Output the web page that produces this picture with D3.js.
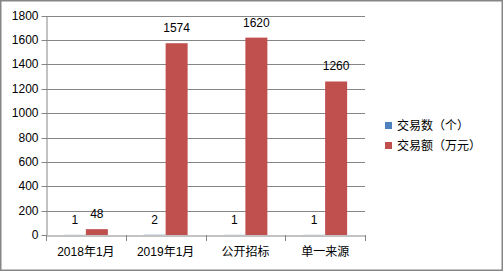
<!DOCTYPE html>
<html><head><meta charset="utf-8">
<script src="https://cdn.jsdelivr.net/npm/d3@7/dist/d3.min.js"></script>
<style>body{margin:0;background:#fff}svg{display:block}text{font-family:"Liberation Sans","Noto Sans CJK SC",sans-serif;font-size:12px;fill:#000}</style>
</head><body><svg id="c" width="503" height="271"></svg>
<script>
const categories = ["2018年1月","2019年1月","公开招标","单一来源"];
const seriesNames = ["交易数（个）","交易额（万元）"];
const countValues = [1,2,1,1];
const amountValues = [48,1574,1620,1260];
const yTicks = [0,200,400,600,800,1000,1200,1400,1600,1800];
const colors = ["#4F81BD","#C0504D"];

const svg = d3.select("#c");
svg.append("rect").attr("x",0.75).attr("y",0.75).attr("width",501.5).attr("height",269.5)
  .attr("fill","#fff").attr("stroke","#868686").attr("stroke-width",1.5);

const L=46, R=365, T=15.7, B=235;
const x = d3.scaleBand().domain(categories).range([L,R]);
const y = d3.scaleLinear().domain([0,1800]).range([B,T]);
const barW = 22;

// grid
svg.append("g").selectAll("line").data(yTicks.filter(d=>d>0)).join("line")
  .attr("x1",L).attr("x2",R).attr("y1",d=>Math.round(y(d))+0.5).attr("y2",d=>Math.round(y(d))+0.5)
  .attr("stroke","#868686").attr("stroke-width",1);

// y axis
const ya = svg.append("g").attr("transform",`translate(${L+0.5},0)`)
  .call(d3.axisLeft(y).tickValues(yTicks).tickFormat(d3.format("d")).tickSize(5).tickPadding(3).tickSizeOuter(0));
ya.select(".domain").attr("stroke","#868686");
ya.selectAll(".tick line").attr("stroke","#868686");
ya.selectAll("text").style("font-size","12px");
ya.selectAll(".tick").attr("transform",d=>`translate(0,${Math.round(y(d))+0.5})`);

// bars
const series = [countValues, amountValues];
series.forEach((vals,si)=>{
  const g = svg.append("g");
  g.selectAll("rect").data(categories).join("rect")
    .attr("x",(c)=>x(c)+x.bandwidth()/2 - barW + si*barW)
    .attr("y",(c,i)=>y(vals[i]))
    .attr("width",barW)
    .attr("height",(c,i)=>B - y(vals[i]))
    .attr("fill",colors[si]);
  g.selectAll("text").data(categories).join("text")
    .attr("x",(c)=>x(c)+x.bandwidth()/2 - barW/2 + si*barW)
    .attr("y",(c,i)=>y(vals[i]) - 11)
    .attr("text-anchor","middle")
    .text((c,i)=>vals[i]);
});

// x axis
const xa = svg.append("g").attr("transform",`translate(0,${B+0.5})`)
  .call(d3.axisBottom(x).tickSize(0).tickPadding(12));
xa.select(".domain").attr("stroke","#868686");
xa.selectAll("text").style("font-size","12px");
const edges = categories.map(c=>x(c)).concat([R]);
svg.append("g").selectAll("line").data(edges).join("line")
  .attr("x1",d=>Math.round(d)+0.5).attr("x2",d=>Math.round(d)+0.5)
  .attr("y1",B).attr("y2",B+6).attr("stroke","#868686");

// legend
const lg = svg.append("g");
seriesNames.forEach((n,i)=>{
  lg.append("rect").attr("x",385).attr("y",122+i*20).attr("width",7).attr("height",7).attr("fill",colors[i]);
  lg.append("text").attr("x",397).attr("y",125.5+i*20).attr("dy","0.35em").text(n);
});
</script></body></html>
